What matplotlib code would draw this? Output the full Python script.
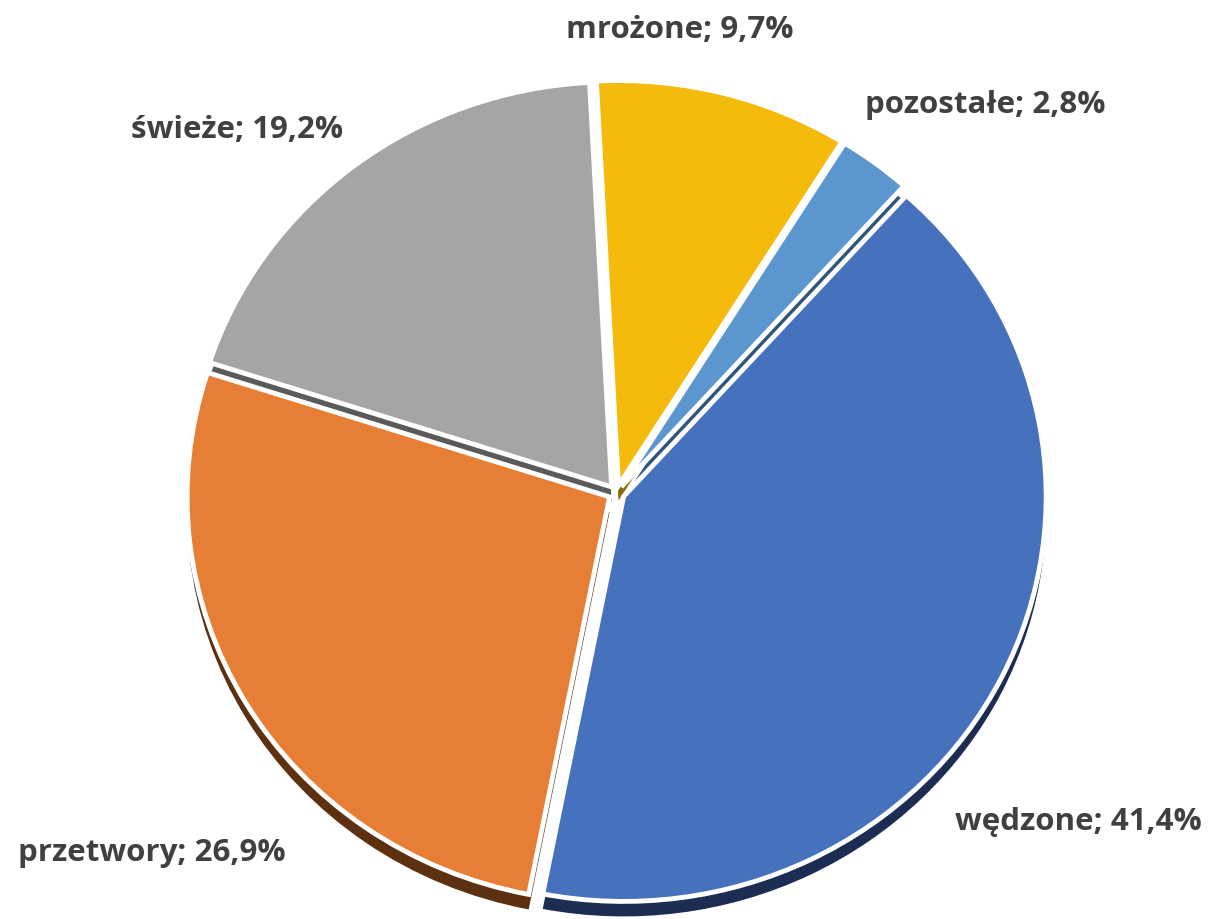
import matplotlib
matplotlib.use("Agg")
import matplotlib.pyplot as plt

# Data (clockwise from top)
categories = ["mrożone", "pozostałe", "wędzone", "przetwory", "świeże"]
values = [9.7, 2.8, 41.4, 26.9, 19.2]
labels = ["mrożone; 9,7%", "pozostałe; 2,8%", "wędzone; 41,4%", "przetwory; 26,9%", "świeże; 19,2%"]

top_colors = ["#F4BA0C", "#5B97CE", "#4671BC", "#E67E36", "#A5A5A5"]
side_colors = ["#8a6a05", "#2f5577", "#1c2c52", "#5e3012", "#5a5a5a"]

W, H = 1211, 920
fig = plt.figure(figsize=(W / 100, H / 100), dpi=100)
ax = fig.add_axes([0, 0, 1, 1])

rx, ry = 422.5, 405.0
yscale = rx / ry  # data y units per pixel
cx_px, cy_px = 616.5, 494.0
center = (cx_px, (H - cy_px) * yscale)
depth = 15 * yscale

explode = [8.0] * len(values)

# side (depth) layer
ax.pie(values, colors=side_colors, startangle=93, counterclock=False,
       radius=rx, center=(center[0], center[1] - depth), explode=explode,
       wedgeprops=dict(edgecolor="none", linewidth=0))
# top layer
ax.pie(values, colors=top_colors, startangle=93, counterclock=False,
       radius=rx, center=center, explode=explode,
       wedgeprops=dict(edgecolor="white", linewidth=3.5))

ax.set_xlim(0, W)
ax.set_ylim(0, H * yscale)
ax.set_aspect("auto")
ax.axis("off")

label_pos = {
    "mrożone; 9,7%": (680, 30),
    "pozostałe; 2,8%": (985, 105),
    "wędzone; 41,4%": (1078, 822),
    "przetwory; 26,9%": (152, 853),
    "świeże; 19,2%": (237, 130),
}
for lab in labels:
    x, y = label_pos[lab]
    fig.text(x / W, 1 - y / H, lab, ha="center", va="center",
             fontsize=22.5, fontweight="bold", color="#404040",
             family=["Open Sans", "DejaVu Sans"])

fig.savefig("out.png", dpi=100, facecolor="white")
